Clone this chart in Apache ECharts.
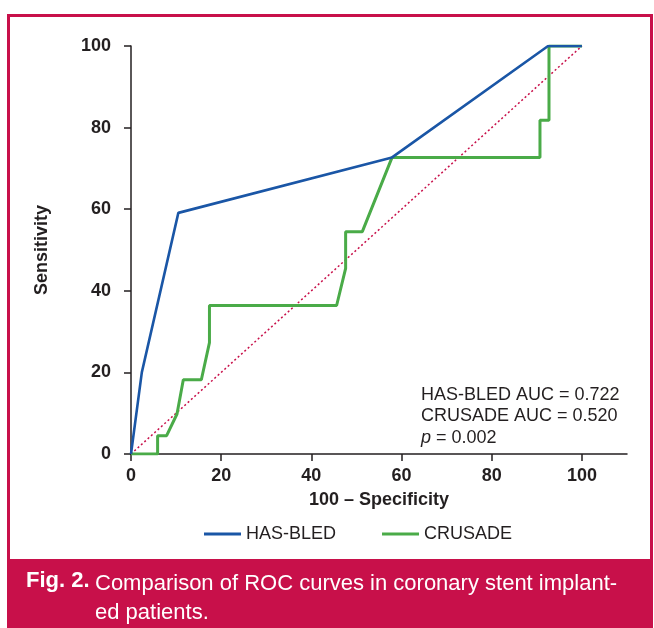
<!DOCTYPE html>
<html>
<head>
<meta charset="utf-8">
<script src="https://cdn.jsdelivr.net/npm/echarts@6/dist/echarts.min.js"></script>
<style>
  html, body { margin: 0; padding: 0; background: #fff; }
  #chart { width: 654px; height: 628px; }
</style>
</head>
<body>
<div id="chart"></div>
<script>
// ROC curve points: [100 - specificity, sensitivity]
const hasBledPoints = [[0, 0], [2.4, 20.0], [10.5, 59.1], [57.9, 72.7], [92.5, 100], [100, 100]];
const crusadePoints = [
  [0, 0], [5.9, 0], [5.9, 4.5], [7.9, 4.5], [10.2, 9.8], [11.6, 18.2], [15.6, 18.2],
  [17.4, 27.3], [17.4, 36.4], [45.6, 36.4], [47.6, 45.5], [47.6, 54.5], [51.3, 54.5],
  [57.9, 72.7], [90.7, 72.7], [90.7, 81.8], [92.7, 81.8], [92.7, 100], [100, 100]
];
const chancePoints = [[0, 0], [100, 100]];
const tickValues = [0, 20, 40, 60, 80, 100];
const seriesNames = ['HAS-BLED', 'CRUSADE'];
const statLines = ['HAS-BLED AUC = 0.722', 'CRUSADE AUC = 0.520', '0.002'];

const crimson = '#c8104a';
const ink = '#231f20';
const font = '"Liberation Sans", Arial, Helvetica, sans-serif';

const chart = echarts.init(document.getElementById('chart'), null, { renderer: 'canvas' });

chart.setOption({
  backgroundColor: '#fff',
  animation: false,
  textStyle: { fontFamily: font },
  grid: { left: 131, right: 27, top: 46, bottom: 174, containLabel: false },
  xAxis: {
    type: 'value', min: 0, max: 110,
    name: '100 \u2013 Specificity', nameLocation: 'middle', nameGap: 37,
    nameTextStyle: { fontFamily: font, fontWeight: 'bold', fontSize: 18, color: ink },
    axisLine: { show: true, lineStyle: { color: ink, width: 1.5 } },
    axisTick: { show: true, length: 7, lineStyle: { color: ink, width: 1.5 }, customValues: tickValues },
    axisLabel: { fontFamily: font, fontWeight: 'bold', fontSize: 18, color: ink, margin: 13, customValues: tickValues },
    splitLine: { show: false }
  },
  yAxis: {
    type: 'value', min: 0, max: 100, interval: 20,
    name: 'Sensitivity', nameLocation: 'middle', nameGap: 80, nameRotate: 90,
    nameTextStyle: { fontFamily: font, fontWeight: 'bold', fontSize: 18, color: ink },
    axisLine: { show: true, lineStyle: { color: ink, width: 1.5 } },
    axisTick: { show: true, length: 7, lineStyle: { color: ink, width: 1.5 } },
    axisLabel: { fontFamily: font, fontWeight: 'bold', fontSize: 18, color: ink, margin: 20 },
    splitLine: { show: false }
  },
  legend: {
    data: seriesNames,
    left: 199, top: 520,
    itemWidth: 37, itemHeight: 3, itemGap: 46,
    icon: 'rect',
    textStyle: { fontFamily: font, fontSize: 18, color: ink }
  },
  series: [
    {
      name: 'reference', type: 'line', data: chancePoints, symbol: 'none', silent: true,
      lineStyle: { color: crimson, width: 1.5, type: [2, 2.5] }, z: 1
    },
    {
      name: seriesNames[0], type: 'line', data: hasBledPoints, symbol: 'none',
      lineStyle: { color: '#1a56a6', width: 2.6 }, itemStyle: { color: '#1a56a6' }, z: 3
    },
    {
      name: seriesNames[1], type: 'line', data: crusadePoints, symbol: 'none',
      lineStyle: { color: '#4aab48', width: 3 }, itemStyle: { color: '#4aab48' }, z: 2
    }
  ],
  graphic: [
    {
      type: 'rect', silent: true, z: -1,
      shape: { x: 8.5, y: 15.5, width: 643, height: 640 },
      style: { fill: 'none', stroke: crimson, lineWidth: 3 }
    },
    {
      type: 'rect', silent: true, z: 0,
      shape: { x: 7, y: 559, width: 646, height: 80 },
      style: { fill: crimson }
    },
    {
      type: 'text', left: 421, top: 384, silent: true,
      style: {
        text: statLines[0] + '\n' + statLines[1] + '\n{i|p} = ' + statLines[2],
        font: '18px ' + font, fill: ink, lineHeight: 21.5,
        rich: { i: { fontStyle: 'italic', fontSize: 18, fontFamily: font, fill: ink } }
      }
    },
    {
      type: 'text', left: 26, top: 570, silent: true,
      style: { text: 'Fig. 2.', font: 'bold 22px ' + font, fill: '#fff' }
    },
    {
      type: 'text', left: 95, top: 569, silent: true,
      style: { text: 'Comparison of ROC curves in coronary stent implant-\ned patients.', font: '22px ' + font, fill: '#fff', lineHeight: 29 }
    }
  ]
});
</script>
</body>
</html>
